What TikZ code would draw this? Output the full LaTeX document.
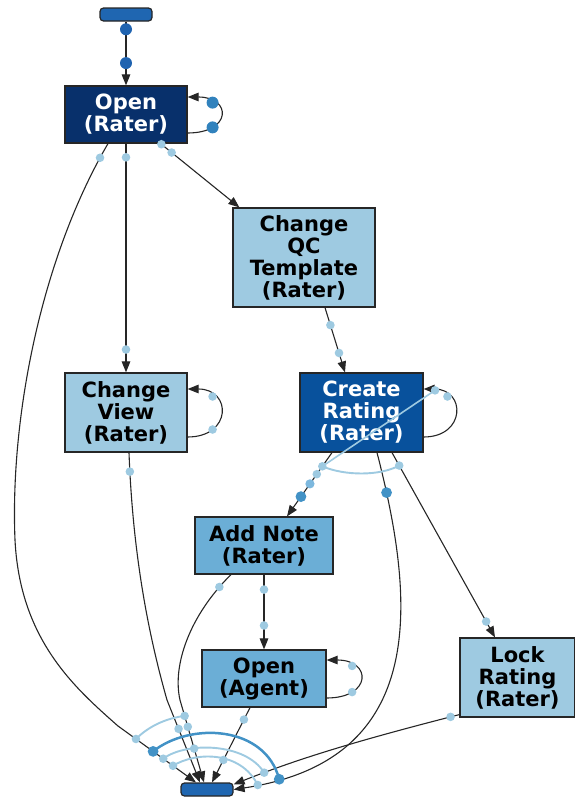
\documentclass[tikz,border=0pt]{standalone}
\usepackage{fontspec}
\setmainfont{DejaVu Sans}
\usetikzlibrary{arrows.meta,calc}
\definecolor{cNavy}{HTML}{08306B}
\definecolor{cDark}{HTML}{08519C}
\definecolor{cMid}{HTML}{6BAED6}
\definecolor{cLight}{HTML}{9ECAE1}
\definecolor{cTerm}{HTML}{1F66B1}
\definecolor{cL}{HTML}{9ECAE1}
\definecolor{cLL}{HTML}{7DB8DE}
\definecolor{cM}{HTML}{4292C6}
\definecolor{cD}{HTML}{1F63B0}
\definecolor{cB}{HTML}{3182BD}
\newcommand\dotL[1]{\fill[cL] (#1) circle (4.3pt);}
\newcommand\dotLL[1]{\fill[cLL] (#1) circle (4.6pt);}
\newcommand\dotM[1]{\fill[cM] (#1) circle (5.4pt);}
\newcommand\dotD[1]{\fill[cD] (#1) circle (6pt);}
\newcommand\dotB[1]{\fill[cB] (#1) circle (6pt);}
\begin{document}
\begin{tikzpicture}[x=1pt,y=-1pt,
  box/.style={draw=black!85, line width=1.2pt, inner sep=0pt, align=center,
    font=\bfseries\fontsize{21}{22}\selectfont},
  term/.style={draw=black!85, line width=1.2pt, fill=cTerm, rounded corners=3.5pt,
    minimum width=52pt, minimum height=13pt, inner sep=0pt},
  edge/.style={draw=black!85, line width=1.1pt, -{Triangle[length=11pt,width=8.5pt]}},
  arcL/.style={draw=cL, line width=1.9pt},
  arcM/.style={draw=cM, line width=2.5pt},
]
\useasboundingbox (0,0) rectangle (575,798);

% nodes
\node[term] (start) at (126,14.5) {};
\node[term] (endn) at (207,789.5) {};
\node[box, fill=cNavy, text=white, minimum width=122pt, minimum height=57pt] (open) at (126,114.5) {Open\\(Rater)};
\node[box, fill=cLight, minimum width=142pt, minimum height=99pt] (qc) at (304,257.5) {Change\\QC\\Template\\(Rater)};
\node[box, fill=cLight, minimum width=122pt, minimum height=79pt] (cview) at (126,412.5) {Change\\View\\(Rater)};
\node[box, fill=cDark, text=white, minimum width=123pt, minimum height=79pt] (create) at (361.5,412.5) {Create\\Rating\\(Rater)};
\node[box, fill=cMid, minimum width=138pt, minimum height=57pt] (anote) at (264,545.5) {Add Note\\(Rater)};
\node[box, fill=cMid, minimum width=124pt, minimum height=57pt] (oagent) at (264,678.5) {Open\\(Agent)};
\node[box, fill=cLight, minimum width=115pt, minimum height=79pt] (lock) at (517.5,677.5) {Lock\\Rating\\(Rater)};

% edges
\draw[edge] (start) -- (open) coordinate[pos=0.12] (s1) coordinate[pos=0.65] (s2);
\draw[edge] ($(open.east)+(0,18.5)$) .. controls (232,133) and (232,97) .. ($(open.east)+(0,-17.5)$)
   coordinate[pos=0.25] (ol1) coordinate[pos=0.75] (ol2);
\draw[edge] ($(open.south east)+(-27,0)$) -- ($(qc.north west)+(7,0)$)
   coordinate[pos=0.01] (oq1) coordinate[pos=0.14] (oq2);
\draw[edge] (open) -- (cview) coordinate[pos=0.06] (ov1) coordinate[pos=0.9] (ov2);
\draw[edge] ($(open.south)+(-18,0)$) .. controls (40,260) and (10,420) .. (15,540)
   coordinate[pos=0.04] (oe0)
   .. controls (20,640) and (75,688) .. (118,726) -- ($(endn.north)+(-11,0)$)
   coordinate[pos=0.23] (oe1) coordinate[pos=0.45] (oe2) coordinate[pos=0.58] (oe3) coordinate[pos=0.705] (oe4);
\draw[edge] ($(qc.south)+(21,0)$) -- ($(create.north)+(-16.5,0)$)
   coordinate[pos=0.27] (qcr1) coordinate[pos=0.7] (qcr2);
\draw[edge] ($(cview.east)+(0,24.5)$) .. controls (232,437) and (232,389) .. ($(cview.east)+(0,-23.5)$)
   coordinate[pos=0.25] (cvl1) coordinate[pos=0.75] (cvl2);
\draw[edge] ($(cview.south)+(3,0)$) .. controls (133,560) and (150,640) .. (167,700)
   coordinate[pos=0.06] (cv1)
   -- ($(endn.north)+(-7,0)$) coordinate[pos=0.35] (cv2);
\draw[edge] ($(create.east)+(0,24.5)$) .. controls (466,437) and (466,389) .. ($(create.east)+(0,-23.5)$)
   coordinate[pos=0.75] (crl1) coordinate[pos=0.9] (crl2);
\draw[edge] ($(create.south)+(-29.5,0)$) -- ($(anote.north)+(23,0)$)
   coordinate[pos=0.215] (cn1) coordinate[pos=0.338] (cn2) coordinate[pos=0.49] (cn3) coordinate[pos=0.69] (cn4);
\draw[edge] ($(create.south)+(15.5,0)$) .. controls (415,600) and (430,760) .. ($(endn.east)+(0,0)$)
   coordinate[pos=0.09] (ce1) coordinate[pos=0.915] (ce2) coordinate[pos=0.957] (ce3);
\draw[edge] ($(create.south)+(30.5,0)$) -- ($(lock.north)+(-22.5,0)$)
   coordinate[pos=0.07] (cl1) coordinate[pos=0.914] (cl2);
\draw[edge] (anote) -- (oagent) coordinate[pos=0.2] (ao1) coordinate[pos=0.68] (ao2);
\draw[edge] ($(anote.south)+(-33,0)$) .. controls (190,615) and (172,665) .. (180,700)
   coordinate[pos=0.1] (an0)
   -- ($(endn.north)+(-3,0)$) coordinate[pos=0.193] (an1) coordinate[pos=0.325] (an2) coordinate[pos=0.59] (an3);
\draw[edge] ($(oagent.east)+(0,19.5)$) .. controls (372,698) and (372,660) .. ($(oagent.east)+(0,-18.5)$)
   coordinate[pos=0.25] (oal1) coordinate[pos=0.75] (oal2);
\draw[edge] ($(oagent.south)+(-14,0)$) -- ($(endn.north)+(5,0)$)
   coordinate[pos=0.16] (oa1) coordinate[pos=0.70] (oa2);
\draw[edge] ($(lock.south west)+(0,-3)$) .. controls (360,740) and (300,758) .. ($(endn.north east)+(0,2)$)
   coordinate[pos=0.03] (lk1) coordinate[pos=0.845] (lk2);

% arcs
\draw[arcL] (oe1) .. controls (150,725) and (168,718) .. (an1);
\draw[arcM] (oe2) .. controls (190,722) and (265,725) .. (ce2);
\draw[arcL] (oe3) .. controls (185,742) and (245,742) .. (lk2);
\draw[arcL] (oe4) .. controls (195,752) and (240,750) .. (ce3);
\draw[arcL] (cn1) .. controls (345,476) and (380,476) .. (cl1);
\draw[arcL, line width=1.6pt] (crl2) -- (cn1);

% dots
\dotD{s1} \dotD{s2}
\dotB{ol1} \dotB{ol2}
\dotL{oq1} \dotL{oq2}
\dotL{ov1} \dotL{ov2}
\dotL{oe0} \dotL{oe1} \dotM{oe2} \dotL{oe3} \dotL{oe4}
\dotL{qcr1} \dotL{qcr2}
\dotL{cvl1} \dotL{cvl2}
\dotL{cv1} \dotL{cv2}
\dotL{crl1} \dotL{crl2}
\dotL{cn1} \dotL{cn2} \dotLL{cn3} \dotM{cn4}
\dotM{ce1} \dotM{ce2} \dotL{ce3}
\dotL{cl1} \dotL{cl2}
\dotL{ao1} \dotL{ao2}
\dotL{an0} \dotL{an1} \dotL{an2} \dotL{an3}
\dotL{oal1} \dotL{oal2}
\dotL{oa1} \dotL{oa2}
\dotL{lk1} \dotL{lk2}
\end{tikzpicture}
\end{document}
